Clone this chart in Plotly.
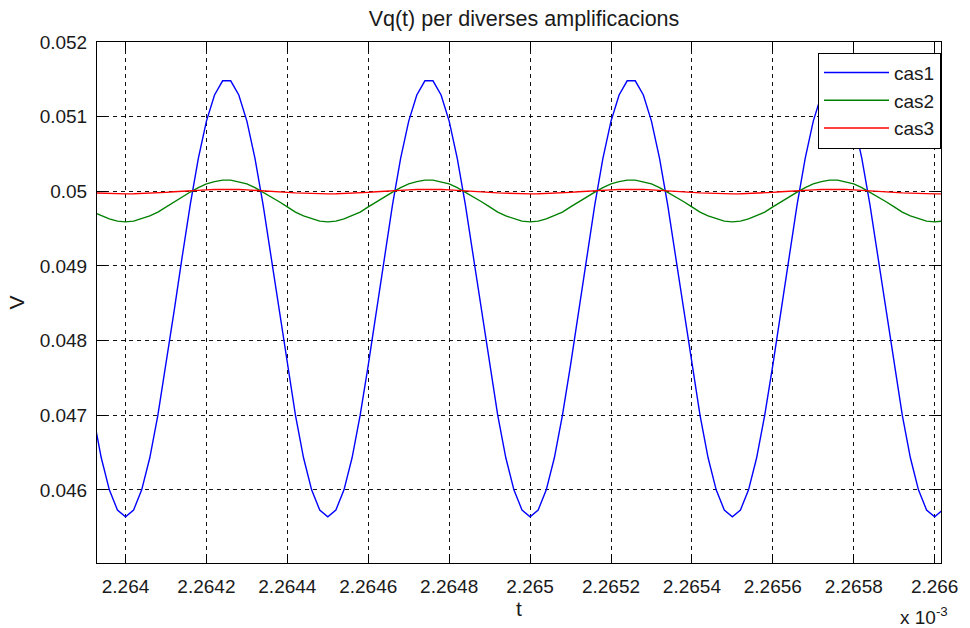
import plotly.graph_objects as go

# Time grid (units of 1e-3 s): first sample and sample spacing
T_START = 2.26392
T_STEP = 0.00002

# Vq(t) for each amplification case, one value per time sample
vq_cas1 = [
    0.04700, 0.04643, 0.04600, 0.04573,
    0.04564, 0.04573, 0.04600, 0.04643, 0.04700, 0.04767, 0.04839, 0.04912, 0.04982, 0.05044,
    0.05094, 0.05129, 0.05148, 0.05148, 0.05129, 0.05094, 0.05044, 0.04982, 0.04912, 0.04839,
    0.04767, 0.04700, 0.04643, 0.04600, 0.04573,
    0.04564, 0.04573, 0.04600, 0.04643, 0.04700, 0.04767, 0.04839, 0.04912, 0.04982, 0.05044,
    0.05094, 0.05129, 0.05148, 0.05148, 0.05129, 0.05094, 0.05044, 0.04982, 0.04912, 0.04839,
    0.04767, 0.04700, 0.04643, 0.04600, 0.04573,
    0.04564, 0.04573, 0.04600, 0.04643, 0.04700, 0.04767, 0.04839, 0.04912, 0.04982, 0.05044,
    0.05094, 0.05129, 0.05148, 0.05148, 0.05129, 0.05094, 0.05044, 0.04982, 0.04912, 0.04839,
    0.04767, 0.04700, 0.04643, 0.04600, 0.04573,
    0.04564, 0.04573, 0.04600, 0.04643, 0.04700, 0.04767, 0.04839, 0.04912, 0.04982, 0.05044,
    0.05094, 0.05129, 0.05148, 0.05148, 0.05129, 0.05094, 0.05044, 0.04982, 0.04912, 0.04839,
    0.04767, 0.04700, 0.04643, 0.04600, 0.04573,
    0.04564, 0.04573, 0.04600,
]

vq_cas2 = [
    0.04972, 0.04967, 0.04963, 0.04960,
    0.04959, 0.04960, 0.04963, 0.04967, 0.04972, 0.04979, 0.04986, 0.04993, 0.04999, 0.05005,
    0.05010, 0.05013, 0.05015, 0.05015, 0.05013, 0.05010, 0.05005, 0.04999, 0.04993, 0.04986,
    0.04979, 0.04972, 0.04967, 0.04963, 0.04960,
    0.04959, 0.04960, 0.04963, 0.04967, 0.04972, 0.04979, 0.04986, 0.04993, 0.04999, 0.05005,
    0.05010, 0.05013, 0.05015, 0.05015, 0.05013, 0.05010, 0.05005, 0.04999, 0.04993, 0.04986,
    0.04979, 0.04972, 0.04967, 0.04963, 0.04960,
    0.04959, 0.04960, 0.04963, 0.04967, 0.04972, 0.04979, 0.04986, 0.04993, 0.04999, 0.05005,
    0.05010, 0.05013, 0.05015, 0.05015, 0.05013, 0.05010, 0.05005, 0.04999, 0.04993, 0.04986,
    0.04979, 0.04972, 0.04967, 0.04963, 0.04960,
    0.04959, 0.04960, 0.04963, 0.04967, 0.04972, 0.04979, 0.04986, 0.04993, 0.04999, 0.05005,
    0.05010, 0.05013, 0.05015, 0.05015, 0.05013, 0.05010, 0.05005, 0.04999, 0.04993, 0.04986,
    0.04979, 0.04972, 0.04967, 0.04963, 0.04960,
    0.04959, 0.04960, 0.04963,
]

vq_cas3 = [
    0.049979, 0.049973, 0.049969, 0.049966,
    0.049965, 0.049966, 0.049969, 0.049973, 0.049979, 0.049986, 0.049993, 0.050001, 0.050008,
    0.050014, 0.050019, 0.050023, 0.050025, 0.050025, 0.050023, 0.050019, 0.050014, 0.050008,
    0.050001, 0.049993, 0.049986, 0.049979, 0.049973, 0.049969, 0.049966,
    0.049965, 0.049966, 0.049969, 0.049973, 0.049979, 0.049986, 0.049993, 0.050001, 0.050008,
    0.050014, 0.050019, 0.050023, 0.050025, 0.050025, 0.050023, 0.050019, 0.050014, 0.050008,
    0.050001, 0.049993, 0.049986, 0.049979, 0.049973, 0.049969, 0.049966,
    0.049965, 0.049966, 0.049969, 0.049973, 0.049979, 0.049986, 0.049993, 0.050001, 0.050008,
    0.050014, 0.050019, 0.050023, 0.050025, 0.050025, 0.050023, 0.050019, 0.050014, 0.050008,
    0.050001, 0.049993, 0.049986, 0.049979, 0.049973, 0.049969, 0.049966,
    0.049965, 0.049966, 0.049969, 0.049973, 0.049979, 0.049986, 0.049993, 0.050001, 0.050008,
    0.050014, 0.050019, 0.050023, 0.050025, 0.050025, 0.050023, 0.050019, 0.050014, 0.050008,
    0.050001, 0.049993, 0.049986, 0.049979, 0.049973, 0.049969, 0.049966,
    0.049965, 0.049966, 0.049969,
]

series_names = ["cas1", "cas2", "cas3"]
series_colors = ["#0000ff", "#008000", "#ff0000"]

x_tick_vals = [2.264, 2.2642, 2.2644, 2.2646, 2.2648, 2.265,
               2.2652, 2.2654, 2.2656, 2.2658, 2.266]
x_tick_text = ["2.264", "2.2642", "2.2644", "2.2646", "2.2648", "2.265",
               "2.2652", "2.2654", "2.2656", "2.2658", "2.266"]
y_tick_vals = [0.046, 0.047, 0.048, 0.049, 0.05, 0.051, 0.052]
y_tick_text = ["0.046", "0.047", "0.048", "0.049", "0.05", "0.051", "0.052"]

t = [T_START + i * T_STEP for i in range(len(vq_cas1))]

FONT = "Liberation Sans, Arial, sans-serif"
INK = "#1a1a1a"

fig = go.Figure()
for name, color, values in zip(series_names, series_colors, [vq_cas1, vq_cas2, vq_cas3]):
    fig.add_trace(go.Scatter(x=t, y=values, mode="lines", name=name,
                             line=dict(color=color, width=1.4)))

axis_common = dict(
    showline=True, linecolor="black", linewidth=1, mirror="allticks",
    ticks="inside", ticklen=9, tickcolor="black", tickwidth=1,
    showgrid=True, gridcolor="#111111", gridwidth=1, griddash="4px,4px",
    zeroline=False,
    tickfont=dict(family=FONT, size=19, color=INK),
)

fig.update_layout(
    width=970, height=628, autosize=False,
    margin=dict(l=97, r=19, t=42, b=65),
    paper_bgcolor="white", plot_bgcolor="white",
    font=dict(family=FONT, color=INK),
    title=dict(text="Vq(t) per diverses amplificacions",
               x=0.5402, xanchor="center", xref="container",
               y=1 - 18 / 628, yanchor="middle", yref="container",
               font=dict(size=21.5, family=FONT, color=INK)),
    xaxis=dict(range=[2.2639295, 2.2660157], tickvals=x_tick_vals, ticktext=x_tick_text,
               ticklabelstandoff=6,
               title=dict(text="t", standoff=4, font=dict(size=21, family=FONT, color=INK)),
               **axis_common),
    yaxis=dict(range=[0.04502, 0.052], tickvals=y_tick_vals, ticktext=y_tick_text,
               ticklabelstandoff=5,
               title=dict(text="V", standoff=9, font=dict(size=21, family=FONT, color=INK)),
               **axis_common),
    legend=dict(x=1.0, y=0.9795, xanchor="right", yanchor="top",
                bgcolor="white", bordercolor="black", borderwidth=1,
                font=dict(size=19, family=FONT, color=INK),
                itemwidth=65, tracegroupgap=0),
    showlegend=True,
)

fig.add_annotation(text="x 10<sup>-3</sup>", xref="paper", yref="paper",
                   x=1.011, y=-0.102, xanchor="right", yanchor="middle",
                   showarrow=False, font=dict(size=19, family=FONT, color=INK))

fig.write_html("out.html")
